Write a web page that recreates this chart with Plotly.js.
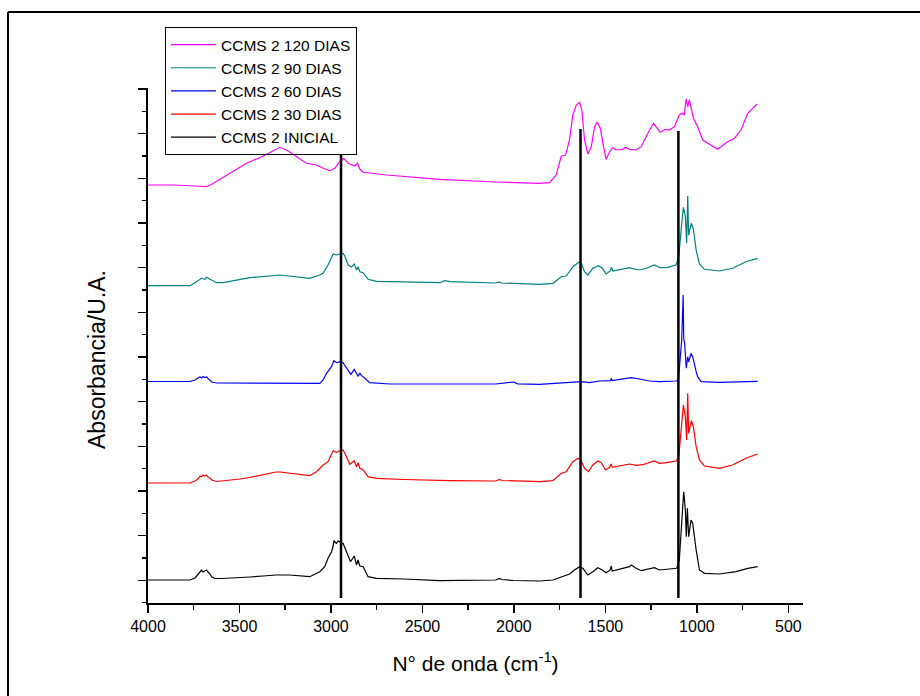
<!DOCTYPE html>
<html>
<head>
<meta charset="utf-8">
<script src="https://cdn.plot.ly/plotly-3.0.1.min.js"></script>
<style>
  html, body { margin: 0; padding: 0; background: #ffffff; }
  #chart { width: 920px; height: 696px; }
</style>
</head>
<body>
<div id="chart"></div>
<script>
// Wavenumber (cm-1) and absorbance (arbitrary units, stacked)
const wnInicial = [4000,3863,3771,3743,3727,3716,3707,3700,3689,3680,3672,3661,3651,3634,3596,3498,3443,3370,3301,3225,3134,3116,3061,3034,3016,2997,2988,2984,2979,2970,2961,2952,2943,2934,2915,2893,2873,2860,2852,2842,2824,2797,2751,2600,2406,2351,2100,2078,2067,2002,1860,1787,1741,1696,1669,1641,1623,1596,1569,1541,1517,1496,1474,1468,1463,1423,1368,1359,1332,1304,1277,1232,1205,1150,1110,1096,1083,1072,1063,1058,1052,1045,1032,1023,1004,986,959,877,786,722,668];
const absInicial = [0.23,0.23,0.23,0.25,0.29,0.31,0.33,0.31,0.32,0.33,0.31,0.29,0.26,0.245,0.245,0.25,0.26,0.27,0.28,0.28,0.265,0.263,0.313,0.363,0.447,0.513,0.57,0.623,0.61,0.597,0.62,0.613,0.59,0.597,0.513,0.413,0.47,0.38,0.43,0.37,0.363,0.263,0.247,0.24,0.223,0.225,0.23,0.245,0.235,0.225,0.22,0.23,0.263,0.29,0.33,0.363,0.347,0.28,0.313,0.353,0.33,0.303,0.33,0.37,0.32,0.337,0.363,0.38,0.347,0.323,0.337,0.353,0.33,0.337,0.347,0.43,0.797,1.113,0.93,0.663,0.947,0.663,0.83,0.797,0.53,0.33,0.297,0.29,0.313,0.347,0.363];

const wn30 = [4000,3863,3771,3743,3727,3716,3707,3700,3689,3680,3672,3661,3651,3625,3589,3498,3443,3370,3301,3279,3225,3134,3116,3079,3043,3016,2988,2970,2952,2934,2924,2897,2873,2860,2852,2842,2824,2797,2751,2600,2406,2351,2100,2078,2067,2002,1860,1787,1741,1714,1678,1651,1637,1614,1592,1569,1541,1523,1499,1477,1468,1463,1423,1368,1332,1296,1232,1205,1168,1114,1099,1086,1074,1063,1056,1050,1045,1037,1030,1019,1004,986,959,877,805,732,668];
const abs30 = [1.20,1.20,1.20,1.22,1.24,1.27,1.26,1.28,1.27,1.28,1.26,1.25,1.23,1.215,1.22,1.24,1.255,1.285,1.31,1.31,1.297,1.273,1.273,1.313,1.38,1.413,1.523,1.507,1.523,1.53,1.497,1.387,1.423,1.363,1.403,1.347,1.33,1.263,1.247,1.235,1.225,1.223,1.22,1.235,1.225,1.22,1.213,1.223,1.297,1.313,1.413,1.447,1.44,1.347,1.313,1.38,1.42,1.403,1.33,1.357,1.39,1.357,1.37,1.39,1.377,1.383,1.42,1.397,1.403,1.42,1.463,1.73,1.98,1.863,1.63,2.097,1.697,1.763,1.823,1.763,1.563,1.43,1.37,1.347,1.38,1.447,1.49];

const wn60 = [4000,3863,3771,3743,3727,3716,3707,3700,3689,3680,3672,3661,3651,3625,3498,3301,3116,3061,3043,3024,2997,2984,2970,2952,2934,2915,2891,2873,2860,2852,2842,2833,2815,2788,2679,2351,2100,2002,1980,1860,1750,1678,1632,1587,1532,1472,1468,1463,1413,1359,1314,1259,1205,1114,1101,1088,1083,1075,1072,1067,1058,1050,1045,1032,1023,1004,996,977,877,668];
const abs60 = [2.215,2.215,2.215,2.23,2.245,2.26,2.25,2.265,2.255,2.26,2.245,2.23,2.21,2.20,2.20,2.197,2.197,2.197,2.23,2.297,2.363,2.423,2.403,2.413,2.403,2.347,2.287,2.337,2.297,2.27,2.297,2.273,2.247,2.203,2.19,2.187,2.19,2.21,2.192,2.187,2.197,2.207,2.213,2.203,2.22,2.223,2.247,2.223,2.237,2.253,2.24,2.22,2.213,2.22,2.23,2.497,2.63,3.08,2.647,2.597,2.347,2.463,2.41,2.497,2.463,2.313,2.263,2.213,2.207,2.217];

const wn90 = [4000,3863,3771,3743,3716,3707,3689,3680,3661,3625,3589,3443,3279,3225,3116,3061,3043,3016,2988,2970,2952,2934,2924,2906,2888,2873,2860,2852,2842,2824,2797,2751,2679,2406,2378,2351,2100,2078,2067,2002,1860,1787,1741,1714,1678,1645,1632,1614,1596,1569,1538,1517,1496,1474,1467,1459,1413,1368,1350,1314,1277,1232,1201,1159,1114,1099,1086,1074,1063,1056,1050,1045,1037,1030,1019,1004,986,959,877,805,732,668];
const abs90 = [3.173,3.173,3.173,3.203,3.235,3.247,3.237,3.257,3.237,3.203,3.203,3.253,3.28,3.27,3.247,3.28,3.297,3.38,3.49,3.48,3.49,3.497,3.47,3.38,3.36,3.39,3.33,3.363,3.313,3.303,3.237,3.217,3.213,3.203,3.223,3.213,3.20,3.21,3.20,3.195,3.187,3.197,3.263,3.27,3.363,3.407,3.397,3.313,3.28,3.347,3.373,3.347,3.29,3.32,3.357,3.32,3.337,3.353,3.343,3.33,3.347,3.38,3.353,3.357,3.38,3.463,3.73,3.957,3.863,3.597,4.07,3.68,3.747,3.797,3.737,3.53,3.39,3.337,3.32,3.347,3.413,3.447];

const wn120 = [4000,3863,3743,3680,3652,3570,3461,3370,3307,3279,3243,3188,3134,3079,3043,3006,2979,2952,2930,2906,2870,2855,2842,2824,2697,2406,2100,1860,1805,1769,1741,1718,1696,1678,1659,1641,1629,1614,1596,1577,1559,1545,1528,1510,1496,1477,1459,1441,1404,1390,1368,1332,1304,1268,1237,1201,1172,1150,1123,1096,1081,1069,1059,1050,1041,1019,996,968,932,887,832,795,759,722,695,671];
const abs120 = [4.18,4.18,4.17,4.163,4.187,4.28,4.397,4.47,4.53,4.557,4.53,4.463,4.397,4.38,4.347,4.323,4.347,4.413,4.447,4.397,4.37,4.397,4.337,4.307,4.28,4.237,4.21,4.197,4.203,4.28,4.47,4.477,4.63,4.88,4.98,5.007,4.93,4.63,4.49,4.563,4.763,4.81,4.747,4.563,4.437,4.513,4.553,4.53,4.537,4.557,4.537,4.53,4.563,4.697,4.797,4.707,4.737,4.73,4.763,4.88,4.897,4.88,5.04,4.963,5.03,4.847,4.763,4.63,4.59,4.537,4.613,4.647,4.73,4.897,4.947,4.99];

const seriesNames = ["CCMS 2 120 DIAS","CCMS 2 90 DIAS","CCMS 2 60 DIAS","CCMS 2 30 DIAS","CCMS 2 INICIAL"];
const seriesColors = ["#ff00ff","#008080","#0000ff","#ff0000","#000000"];

// Reference band markers (cm-1) and their top values
const bandWn = [2945, 1636, 1101];
const bandTop = [4.48, 4.74, 4.72];
const bandBottom = 0.05;

const xs = [wn120, wn90, wn60, wn30, wnInicial];
const ys = [abs120, abs90, abs60, abs30, absInicial];

const traces = seriesNames.map((name, i) => ({
  type: 'scatter', mode: 'lines', name: name,
  x: xs[i], y: ys[i],
  line: {color: seriesColors[i], width: 1.2},
  hoverinfo: 'skip'
}));

const bx = [], by = [];
bandWn.forEach((w, i) => { bx.push(w, w, null); by.push(bandBottom, bandTop[i], null); });
traces.push({
  type: 'scatter', mode: 'lines', x: bx, y: by, showlegend: false,
  line: {color: '#000000', width: 2.5}, hoverinfo: 'skip'
});

const L = 148, R = 803, T = 88, B = 603;
const W = R - L, H = B - T;
const px = v => (v - L) / W;
const py = v => (B - v) / H;

const font = "'Liberation Sans', Arial, sans-serif";

const layout = {
  width: 920, height: 696,
  margin: {l: L, r: 920 - R, t: T, b: 696 - B, pad: 0},
  paper_bgcolor: '#ffffff', plot_bgcolor: '#ffffff',
  font: {family: font, color: '#000000', size: 16},
  showlegend: true,
  legend: {
    x: px(165), y: py(27), xanchor: 'left', yanchor: 'top',
    bgcolor: 'rgba(255,255,255,0)', bordercolor: '#000000', borderwidth: 1,
    font: {family: font, size: 15.5, color: '#000000'},
    itemwidth: 45,
    tracegroupgap: 0
  },
  xaxis: {
    range: [4000, 420], tick0: 0, dtick: 500,
    ticks: 'outside', ticklen: 8, tickwidth: 1.5, tickcolor: '#000000',
    minor: {dtick: 250, ticks: 'outside', ticklen: 5, tickwidth: 1.5, tickcolor: '#000000'},
    showline: true, linewidth: 2, linecolor: '#000000',
    showgrid: false, zeroline: false,
    tickfont: {family: font, size: 16, color: '#000000'},
    title: {text: 'N° de onda (cm<sup>-1</sup>)', font: {family: font, size: 21, color: '#000000'}, standoff: 22}
  },
  yaxis: {
    range: [0, 5.15], tick0: 0.227, dtick: 0.4467,
    ticks: 'outside', ticklen: 8, tickwidth: 1.5, tickcolor: '#000000',
    minor: {tick0: 0.227, dtick: 0.22335, ticks: 'outside', ticklen: 4, tickwidth: 1.5, tickcolor: '#000000'},
    showticklabels: false,
    showline: true, linewidth: 2, linecolor: '#000000',
    showgrid: false, zeroline: false
  },
  annotations: [
    {text: 'Absorbancia/U.A.', xref: 'paper', yref: 'paper', x: px(97), y: py(360),
     xanchor: 'center', yanchor: 'middle', textangle: -90, showarrow: false,
     font: {family: font, size: 23, color: '#000000'}}
  ],
  shapes: [
    {type: 'line', xref: 'paper', yref: 'paper', x0: px(8), x1: px(8), y0: py(710), y1: py(12), line: {color: '#000000', width: 2}},
    {type: 'line', xref: 'paper', yref: 'paper', x0: px(8), x1: px(930), y0: py(12), y1: py(12), line: {color: '#000000', width: 2}}
  ]
};

Plotly.newPlot('chart', traces, layout, {displayModeBar: false, staticPlot: true});
</script>
</body>
</html>
